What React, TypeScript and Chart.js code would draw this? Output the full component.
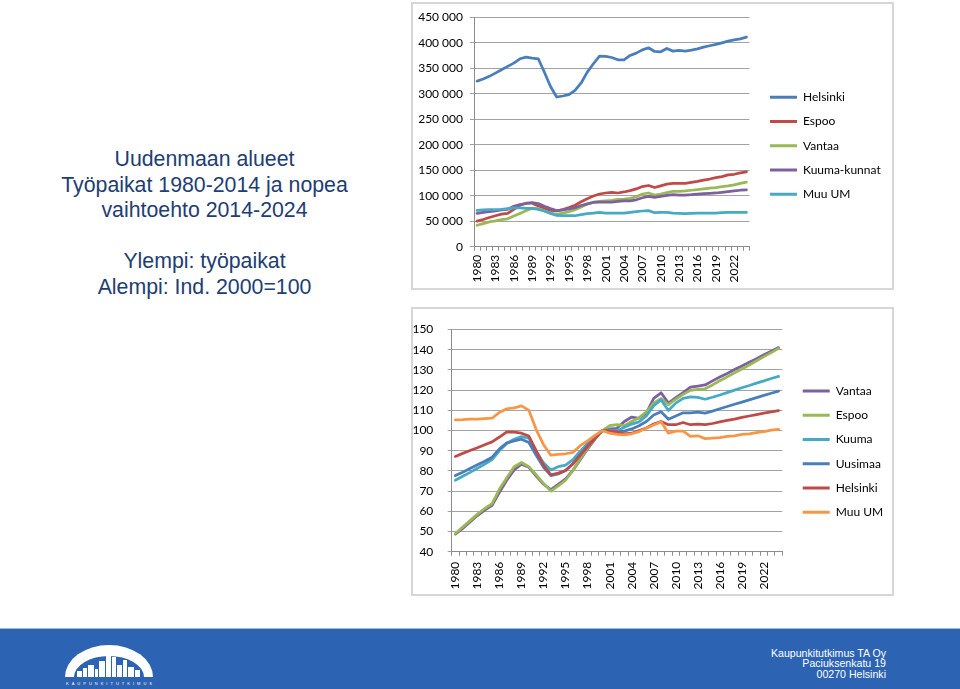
import React, { useEffect, useRef } from 'react';
import { Chart, registerables } from 'chart.js';

Chart.register(...registerables);

const FONT = 'Lato, "Liberation Sans", sans-serif';
const FONT_SIZE = 12;
const GRID = '#a3a3a3';
const AXIS = '#8c8c8c';

const years = [
  '1980', '1981', '1982', '1983', '1984', '1985', '1986', '1987', '1988', '1989',
  '1990', '1991', '1992', '1993', '1994', '1995', '1996', '1997', '1998', '1999',
  '2000', '2001', '2002', '2003', '2004', '2005', '2006', '2007', '2008', '2009',
  '2010', '2011', '2012', '2013', '2014', '2015', '2016', '2017', '2018', '2019',
  '2020', '2021', '2022', '2023', '2024',
];

const upperYTickLabels = ['0', '50 000', '100 000', '150 000', '200 000', '250 000', '300 000', '350 000', '400 000', '450 000'];
const lowerYTickLabels = ['40', '50', '60', '70', '80', '90', '100', '110', '120', '130', '140', '150'];

// Upper chart: jobs (työpaikat)
const upperLabels = ['Helsinki', 'Espoo', 'Vantaa', 'Kuuma-kunnat', 'Muu UM'];
const upperColors = ['#4A7EBB', '#BE4B48', '#98B954', '#7D60A0', '#46AAC5'];

const helsinkiJobs = [324700, 328700, 334000, 340400, 347000, 353500, 360000, 368500, 371700, 369800,
  368500, 342000, 314000, 293500, 295500, 298000, 306500, 321000, 342400, 358700,
  373700, 373000, 371000, 366500, 366500, 375000, 379600, 386000, 390000, 382800,
  382200, 388700, 383500, 384800, 383500, 385400, 388000, 391300, 394000, 396600,
  399800, 403000, 405600, 407600, 410900];
const espooJobs = [50000, 53300, 57300, 60700, 64000, 65300, 73300, 81300, 85300, 85300,
  80000, 75300, 71300, 70000, 72700, 76700, 81300, 88000, 94000, 99300,
  103300, 105300, 106700, 105300, 107300, 110000, 113300, 118000, 120000, 116000,
  119300, 122700, 124000, 124000, 124000, 126000, 128000, 130700, 132700, 135300,
  137300, 140700, 142000, 144700, 146700];
const vantaaJobs = [42000, 45300, 48700, 50700, 53300, 54700, 60000, 65300, 70700, 75300,
  74700, 70000, 66000, 63300, 66000, 68700, 72700, 78000, 83300, 87300,
  88700, 90000, 90700, 92700, 93300, 94700, 98000, 103300, 105300, 101300,
  103300, 106000, 108700, 108700, 109300, 110700, 112000, 113300, 114700, 116000,
  118000, 119300, 121300, 124000, 126700];
const kuumaJobs = [65300, 67300, 68700, 70000, 72000, 73300, 79300, 82700, 84700, 86700,
  84700, 79300, 74700, 70700, 72000, 74000, 76700, 80700, 84000, 86700,
  87300, 87300, 87300, 88700, 90000, 90000, 92000, 96000, 98700, 96700,
  98700, 100700, 102000, 101300, 101300, 102000, 103300, 104000, 104700, 105300,
  106700, 108000, 109300, 110700, 111300];
const muuJobs = [71300, 72000, 72700, 72700, 73300, 74700, 76000, 76000, 75300, 75300,
  73300, 70000, 65300, 61300, 60700, 60700, 60700, 62700, 64700, 66000,
  67300, 66000, 66000, 66000, 66000, 67300, 68700, 70000, 70700, 66700,
  67300, 67300, 66000, 65300, 64700, 65300, 66000, 66000, 66000, 66000,
  66700, 67300, 67300, 67300, 67300];

// Lower chart: index 2000 = 100
const lowerLabels = ['Vantaa', 'Espoo', 'Kuuma', 'Uusimaa', 'Helsinki', 'Muu UM'];
const lowerColors = ['#7D60A0', '#98B954', '#46AAC5', '#4A7EBB', '#BE4B48', '#F79646'];

const vantaaIdx = [48.7, 51.5, 54.7, 57.9, 60.6, 63.0, 69.4, 75.4, 80.5, 83.3,
  81.8, 77.4, 73.4, 70.7, 73.4, 76.1, 80.2, 85.6, 90.9, 95.7,
  100, 100.8, 101.1, 104.5, 106.7, 106.1, 108.8, 115.9, 118.7, 113.6,
  116.3, 118.8, 121.5, 122.0, 122.6, 124.6, 126.5, 128.3, 130.2, 132.0,
  133.8, 135.6, 137.5, 139.3, 141.1];
const espooIdx = [49.0, 52.2, 55.4, 58.6, 61.4, 63.8, 71.0, 76.6, 82.1, 84.2,
  82.1, 78.1, 73.8, 70.0, 72.6, 75.4, 80.2, 86.1, 91.4, 96.2,
  100, 102.4, 102.9, 102.4, 104.5, 106.4, 109.3, 113.6, 115.9, 112.8,
  115.5, 117.9, 119.9, 120.4, 120.7, 122.6, 124.7, 126.6, 128.6, 130.5,
  132.5, 134.6, 136.6, 138.6, 140.7];
const kuumaIdx = [75.4, 77.4, 79.3, 81.3, 83.4, 85.6, 90.1, 93.6, 95.7, 97.0,
  96.2, 89.8, 84.0, 80.5, 82.1, 82.9, 85.6, 89.8, 93.6, 97.0,
  100, 100.3, 99.7, 101.6, 103.2, 104.3, 107.2, 112.3, 115.2, 109.9,
  113.6, 115.9, 116.7, 116.4, 115.5, 116.5, 117.6, 118.8, 120.0, 121.2,
  122.3, 123.5, 124.6, 125.8, 126.8];
const uusimaaIdx = [77.7, 79.4, 81.2, 83.1, 84.8, 86.8, 90.9, 93.9, 94.9, 95.7,
  94.1, 87.7, 81.8, 77.7, 78.5, 80.2, 83.7, 88.2, 92.5, 96.5,
  100, 100, 99.4, 99.7, 100.8, 102.4, 104.5, 107.7, 109.3, 105.6,
  107.2, 108.8, 108.8, 109.1, 108.6, 109.6, 110.8, 111.9, 113.0, 114.1,
  115.2, 116.3, 117.4, 118.5, 119.5];
const helsinkiIdx = [87.2, 88.7, 90.1, 91.5, 93.0, 94.4, 96.8, 99.4, 99.2, 98.7,
  97.3, 90.1, 82.9, 78.1, 78.9, 80.2, 83.4, 87.7, 92.0, 96.2,
  100, 99.7, 99.2, 98.4, 98.7, 100, 101.3, 103.2, 104.5, 102.9,
  102.9, 104.0, 102.9, 103.2, 102.9, 103.5, 104.3, 105.0, 105.7, 106.5,
  107.2, 107.9, 108.6, 109.3, 109.9];
const muuIdx = [105.3, 105.4, 105.6, 105.7, 105.9, 106.1, 109.0, 110.8, 111.2, 112.2,
  110.0, 100.5, 93.0, 87.8, 88.2, 88.5, 89.2, 92.5, 94.9, 97.6,
  100, 98.7, 98.1, 97.9, 98.4, 99.5, 101.1, 102.7, 104.3, 98.7,
  99.7, 99.7, 97.1, 97.4, 96.0, 96.2, 96.5, 97.1, 97.4, 98.1,
  98.4, 99.0, 99.5, 100.2, 100.6];

const upperData = [helsinkiJobs, espooJobs, vantaaJobs, kuumaJobs, muuJobs];
const lowerData = [vantaaIdx, espooIdx, kuumaIdx, uusimaaIdx, helsinkiIdx, muuIdx];

const LEGEND_BOX = 27;
const LEGEND_PAD = 12.25;
const LEGEND_W = 60; // fixed legend box width; text may run past it (clip widened below)

type Layout = {
  canvasW: number; canvasH: number;
  yMin: number; yMax: number; step: number; yLabels: string[];
  plotLeft: number; plotRight: number; plotTop: number; plotBottom: number;
  yPad: number; xPad: number; padBottom: number; legendStart: number;
};

// lets legend text run past the (fixed-width) legend box instead of being clipped
const widenLegendClip = {
  id: 'widenLegendClip',
  afterLayout(chart: any) {
    if (chart.legend) {
      chart.legend.right = chart.width;
    }
  },
};

function buildConfig(labels: string[], colors: string[], data: number[][], L: Layout): any {
  const font = { family: FONT, size: FONT_SIZE };
  const gap = L.legendStart - LEGEND_PAD - L.plotRight;
  const padRight = L.canvasW - L.plotRight - gap - LEGEND_W;
  return {
    type: 'line',
    data: {
      labels: years,
      datasets: data.map((d, i) => ({
        label: labels[i],
        data: d,
        xAxisID: 'x',
        yAxisID: 'y',
        borderColor: colors[i],
        backgroundColor: colors[i],
        borderWidth: 2.75,
        pointRadius: 0,
        tension: 0,
        fill: false,
        borderJoinStyle: 'round',
        borderCapStyle: 'round',
        order: -i,
      })),
    },
    plugins: [widenLegendClip],
    options: {
      responsive: false,
      animation: false,
      devicePixelRatio: 1,
      layout: { padding: { left: 0, top: 0, right: padRight, bottom: L.padBottom } },
      plugins: {
        tooltip: { enabled: false },
        legend: {
          position: 'right',
          maxWidth: LEGEND_W,
          labels: {
            boxWidth: LEGEND_BOX,
            boxHeight: 3,
            padding: LEGEND_PAD,
            color: '#000',
            font,
            generateLabels: (chart: any) =>
              chart.data.datasets.map((ds: any, i: number) => ({
                text: ds.label,
                fillStyle: ds.borderColor,
                strokeStyle: ds.borderColor,
                lineWidth: 0,
                hidden: false,
                datasetIndex: i,
                fontColor: '#000',
              })),
          },
        },
      },
      scales: {
        x: {
          type: 'category',
          offset: true,
          grid: { offset: true, drawOnChartArea: false, drawTicks: true, tickLength: 4, color: AXIS },
          border: { color: AXIS },
          ticks: {
            autoSkip: false,
            maxRotation: 90,
            minRotation: 90,
            padding: L.xPad,
            color: '#000',
            font,
            callback: (_v: any, i: number) => (i % 3 === 0 ? years[i] : ''),
          },
          afterFit: (s: any) => { s.height = L.canvasH - L.padBottom - L.plotBottom; },
        },
        y: {
          type: 'linear',
          min: L.yMin,
          max: L.yMax,
          grid: { color: GRID, tickLength: 4 },
          border: { color: AXIS },
          ticks: {
            stepSize: L.step,
            padding: L.yPad,
            color: '#000',
            font,
            callback: (_v: any, i: number) => L.yLabels[i],
          },
          afterFit: (s: any) => { s.width = L.plotLeft; },
        },
        gap: {
          type: 'linear',
          position: 'right',
          display: true,
          grid: { display: false },
          border: { display: false },
          ticks: { display: false },
          afterFit: (s: any) => { s.width = gap; },
        },
        topgap: {
          type: 'linear',
          position: 'top',
          display: true,
          grid: { display: false },
          border: { display: false },
          ticks: { display: false },
          afterFit: (s: any) => { s.height = L.plotTop; },
        },
      },
    },
  };
}

function ChartCanvas({ config, left, top, width, height }: { config: () => any; left: number; top: number; width: number; height: number }) {
  const ref = useRef<HTMLCanvasElement>(null);
  useEffect(() => {
    const chart = new Chart(ref.current as HTMLCanvasElement, config());
    return () => chart.destroy();
  }, []);
  return (
    <canvas
      ref={ref}
      width={width}
      height={height}
      style={{ position: 'absolute', left, top, width, height }}
    />
  );
}

function Logo() {
  const blue = '#2C63B2';
  return (
    <svg width={88} height={42} viewBox="0 0 88 42" style={{ position: 'absolute', left: 65, top: 645 }}>
      <path d="M0 32 A44 32 0 0 1 88 32 Z" fill="#fff" />
      <path d="M9 32 A35 21 0 0 1 79 32 Z" fill={blue} />
      <rect x={12} y={26} width={5} height={6} fill="#fff" />
      <rect x={18} y={23} width={4} height={9} fill="#fff" />
      <rect x={23} y={20} width={6} height={12} fill="#fff" />
      <rect x={30} y={24} width={3} height={8} fill="#fff" />
      <rect x={34} y={16} width={6} height={16} fill="#fff" />
      <rect x={41} y={5} width={5} height={27} fill="#fff" />
      <rect x={47} y={12} width={4} height={20} fill="#fff" />
      <rect x={52} y={20} width={5} height={12} fill="#fff" />
      <rect x={58} y={15} width={4} height={17} fill="#fff" />
      <rect x={63} y={22} width={6} height={10} fill="#fff" />
      <rect x={70} y={25} width={5} height={7} fill="#fff" />
      <text x={1} y={39.5} fontSize={4} fill="#fff" textLength={86} fontFamily="Liberation Sans, sans-serif">KAUPUNKITUTKIMUS</text>
    </svg>
  );
}

export default function App() {
  // canvases start at (412, 3) and (412, 308); plot/legend positions are canvas-relative
  const upperCfg = () => buildConfig(upperLabels, upperColors, upperData, {
    canvasW: 481, canvasH: 286,
    yMin: 0, yMax: 450000, step: 50000, yLabels: upperYTickLabels,
    plotLeft: 62, plotRight: 337.5, plotTop: 13.7, plotBottom: 243.7,
    yPad: 7, xPad: 4, padBottom: 0.4, legendStart: 358,
  });
  const lowerCfg = () => buildConfig(lowerLabels, lowerColors, lowerData, {
    canvasW: 481, canvasH: 287,
    yMin: 40, yMax: 150, step: 10, yLabels: lowerYTickLabels,
    plotLeft: 39.7, plotRight: 370.3, plotTop: 14, plotBottom: 243.7,
    yPad: 14.4, xPad: 6, padBottom: 0, legendStart: 390.7,
  });
  const titleColor = '#213D73';
  return (
    <div style={{ position: 'fixed', left: 0, top: 0, width: 960, height: 689, background: '#fff', overflow: 'hidden' }}>
      <div style={{
        position: 'absolute', left: 0, top: 147, width: 409, textAlign: 'center',
        fontFamily: '"Liberation Sans", Arial, sans-serif', fontSize: 21.3, lineHeight: '25.5px', color: titleColor,
      }}>
        <div>Uudenmaan alueet</div>
        <div>Työpaikat 1980-2014 ja nopea</div>
        <div>vaihtoehto 2014-2024</div>
        <div>&nbsp;</div>
        <div>Ylempi: työpaikat</div>
        <div>Alempi: Ind. 2000=100</div>
      </div>

      <div style={{ position: 'absolute', left: 411, top: 2, width: 483, height: 288, border: '2px solid #d6d6d6', boxSizing: 'border-box' }} />
      <ChartCanvas config={upperCfg} left={412} top={3} width={481} height={286} />

      <div style={{ position: 'absolute', left: 411, top: 307, width: 483, height: 289, border: '2px solid #d6d6d6', boxSizing: 'border-box' }} />
      <ChartCanvas config={lowerCfg} left={412} top={308} width={481} height={287} />

      <div style={{ position: 'absolute', left: 0, top: 628, width: 960, height: 61, background: '#2C63B2', borderTop: '1px solid #9DB8E3', boxSizing: 'border-box' }} />
      <Logo />
      <div style={{
        position: 'absolute', right: 74, top: 647.6, textAlign: 'right', color: '#fff',
        fontFamily: '"Liberation Sans", Arial, sans-serif', fontSize: 10.6, lineHeight: '10.8px',
      }}>
        <div>Kaupunkitutkimus TA Oy</div>
        <div>Paciuksenkatu 19</div>
        <div>00270 Helsinki</div>
      </div>
    </div>
  );
}
